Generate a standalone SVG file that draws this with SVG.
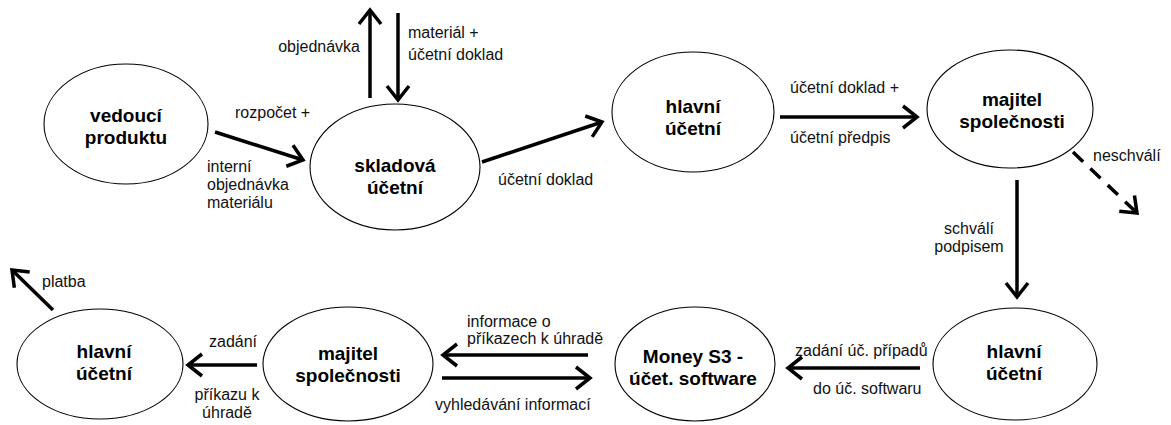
<svg xmlns="http://www.w3.org/2000/svg" width="1171" height="425" viewBox="0 0 1171 425">
<style>
.node ellipse{fill:#fff;stroke:#000;stroke-width:1.1}
.node text{font-family:"Liberation Sans",Arial,sans-serif;font-size:19px;font-weight:bold;text-anchor:middle;fill:#000}
.lbl{font-family:"Liberation Sans",Arial,sans-serif;font-size:16px;fill:#111}
.mid{text-anchor:middle}
.end{text-anchor:end}
.conn path{fill:none;stroke:#000;stroke-width:3.5;marker-end:url(#ah)}
.conn path.dash{stroke-dasharray:14 10}
</style>
<defs>
<marker id="ah" markerUnits="userSpaceOnUse" viewBox="0 0 20 26" markerWidth="20" markerHeight="26" refX="16" refY="13" orient="auto">
<path d="M2,2 L16,13 L2,24" fill="none" stroke="#000" stroke-width="3.5"/>
</marker>
</defs>
<rect width="1171" height="425" fill="#fff"/>
<g id="connectors" class="conn">
<path d="M215,132 L303,160"/>
<path d="M370,98 L370,10"/>
<path d="M398,13 L398,100"/>
<path d="M482,162 L602,122"/>
<path d="M780,117 L917,117"/>
<path d="M1017,180 L1017,297"/>
<path class="dash" d="M1073,152 L1137,213"/>
<path d="M920,368 L788,368"/>
<path d="M588,355 L443,355"/>
<path d="M442,378 L590,378"/>
<path d="M257,365 L188,365"/>
<path d="M53,310 L12,270"/>
</g>
<g id="labels">
<text class="lbl" x="235" y="118">rozpočet +</text>
<text class="lbl" x="207" y="172">interní</text>
<text class="lbl" x="207" y="190">objednávka</text>
<text class="lbl" x="207" y="208">materiálu</text>
<text class="lbl end" x="360" y="52">objednávka</text>
<text class="lbl" x="408" y="38">materiál +</text>
<text class="lbl" x="408" y="60">účetní doklad</text>
<text class="lbl" x="498" y="185">účetní doklad</text>
<text class="lbl" x="790" y="93">účetní doklad +</text>
<text class="lbl" x="790" y="143">účetní předpis</text>
<text class="lbl" x="1093" y="161">neschválí</text>
<text class="lbl mid" x="969" y="234">schválí</text>
<text class="lbl mid" x="969" y="252">podpisem</text>
<text class="lbl" x="795" y="356">zadání úč. případů</text>
<text class="lbl" x="813" y="394">do úč. softwaru</text>
<text class="lbl" x="467" y="327">informace o</text>
<text class="lbl" x="467" y="344">příkazech k úhradě</text>
<text class="lbl" x="435" y="410">vyhledávání informací</text>
<text class="lbl" x="209" y="347">zadání</text>
<text class="lbl mid" x="227" y="400">příkazu k</text>
<text class="lbl mid" x="227" y="418">úhradě</text>
<text class="lbl" x="42" y="287">platba</text>
</g>
<g id="vedouci-produktu" class="node">
<ellipse cx="126" cy="124" rx="82" ry="60"/>
<text x="126" y="122">vedoucí</text>
<text x="126" y="144">produktu</text>
</g>
<g id="skladova-ucetni" class="node">
<ellipse cx="395" cy="167" rx="85" ry="63"/>
<text x="395" y="172">skladová</text>
<text x="395" y="194">účetní</text>
</g>
<g id="hlavni-ucetni-1" class="node">
<ellipse cx="693" cy="112" rx="81" ry="60"/>
<text x="693" y="113">hlavní</text>
<text x="693" y="135">účetní</text>
</g>
<g id="majitel-1" class="node">
<ellipse cx="1010" cy="109" rx="83" ry="59"/>
<text x="1012" y="106">majitel</text>
<text x="1012" y="128">společnosti</text>
</g>
<g id="hlavni-ucetni-2" class="node">
<ellipse cx="1015" cy="364" rx="82" ry="56"/>
<text x="1014" y="358">hlavní</text>
<text x="1014" y="380">účetní</text>
</g>
<g id="money-s3" class="node">
<ellipse cx="695" cy="364" rx="80" ry="57"/>
<text x="693" y="363">Money S3 -</text>
<text x="693" y="385">účet. software</text>
</g>
<g id="majitel-2" class="node">
<ellipse cx="348" cy="364" rx="85" ry="57"/>
<text x="348" y="360">majitel</text>
<text x="348" y="382">společnosti</text>
</g>
<g id="hlavni-ucetni-3" class="node">
<ellipse cx="100" cy="364" rx="83" ry="55"/>
<text x="104" y="358">hlavní</text>
<text x="104" y="380">účetní</text>
</g>
</svg>
